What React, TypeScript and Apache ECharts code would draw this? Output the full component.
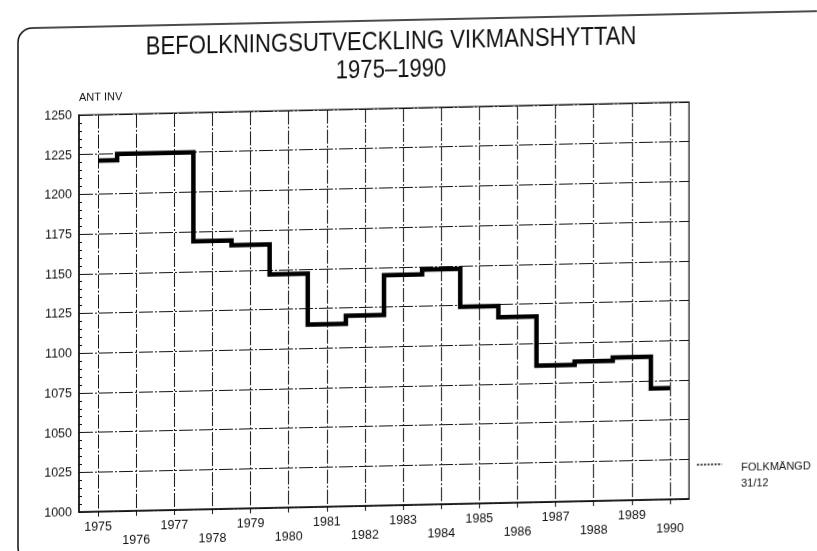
import React, { useEffect, useRef } from 'react';
import * as echarts from 'echarts';

// ---- data ----
const years = ['1975', '1976', '1977', '1978', '1979', '1980', '1981', '1982', '1983', '1984', '1985', '1986', '1987', '1988', '1989', '1990'];
const population = [1221, 1225, 1225, 1169, 1166, 1147, 1115, 1120, 1145, 1148, 1124, 1117, 1086, 1088, 1090, 1070];
const yMin = 1000;
const yMax = 1250;
const yStep = 25;

const titleText = 'BEFOLKNINGSUTVECKLING VIKMANSHYTTAN';
const subtitleText = '1975–1990';
const yAxisName = 'ANT INV';
const seriesName = 'FOLKMÄNGD 31/12';
const legendLines = ['FOLKMÄNGD', '31/12'];

const FONT = '"Liberation Sans", Arial, sans-serif';
const INK = '#111';

export default function App() {
  const ref = useRef<HTMLDivElement>(null);

  useEffect(() => {
    if (!ref.current) return;
    const chart = echarts.init(ref.current, null, { renderer: 'svg' });
    const gridDash = [14, 2, 2, 2];
    chart.setOption({
      animation: false,
      backgroundColor: '#fff',
      textStyle: { fontFamily: FONT, color: INK },
      grid: {
        left: 79,
        top: 115,
        width: 610,
        height: 397,
        show: true,
        borderColor: INK,
        borderWidth: 1.2,
        backgroundColor: 'transparent',
      },
      xAxis: {
        type: 'category',
        data: years,
        boundaryGap: true,
        axisLine: { show: true, lineStyle: { color: INK, width: 1.5 } },
        axisTick: { show: true, alignWithLabel: true, length: 5, lineStyle: { color: INK } },
        axisLabel: {
          interval: 0,
          margin: 8,
          fontFamily: FONT,
          fontSize: 12.5,
          lineHeight: 14,
          color: INK,
          formatter: (v: string, i: number) => (i % 2 === 0 ? v : '\n' + v),
        },
        splitLine: {
          show: true,
          alignWithLabel: true,
          lineStyle: { color: '#111', width: 1, type: gridDash },
        },
      },
      yAxis: {
        type: 'value',
        min: yMin,
        max: yMax,
        interval: yStep,
        name: yAxisName,
        nameLocation: 'end',
        nameGap: 13,
        nameTextStyle: { fontFamily: FONT, fontSize: 11, color: INK, align: 'left' },
        axisLine: { show: true, lineStyle: { color: INK, width: 1.5 } },
        axisTick: { show: true, inside: true, length: 5, lineStyle: { color: INK } },
        minorTick: { show: true, splitNumber: 5, length: 3, lineStyle: { color: INK } },
        axisLabel: {
          margin: 7,
          fontFamily: FONT,
          fontSize: 12.5,
          color: INK,
          formatter: (v: number) => String(v),
        },
        splitLine: { show: true, lineStyle: { color: '#111', width: 1, type: gridDash } },
      },
      series: [
        {
          name: seriesName,
          type: 'line',
          step: 'middle',
          data: population,
          symbol: 'none',
          lineStyle: { color: '#000', width: 4.5, join: 'miter' },
          z: 5,
        },
      ],
      graphic: [
        {
          type: 'rect',
          shape: { x: 18, y: 27, width: 900, height: 533, r: 14 },
          style: { fill: 'none', stroke: INK, lineWidth: 1.5 },
          silent: true,
        },
        {
          type: 'text',
          x: 391,
          y: 46.5,
          scaleX: 0.85,
          style: {
            text: titleText,
            font: `26px ${FONT}`,
            fill: INK,
            textAlign: 'center',
            textVerticalAlign: 'middle',
          },
          silent: true,
        },
        {
          type: 'text',
          x: 391,
          y: 75,
          scaleX: 0.85,
          style: {
            text: subtitleText,
            font: `26px ${FONT}`,
            fill: INK,
            textAlign: 'center',
            textVerticalAlign: 'middle',
          },
          silent: true,
        },
        {
          type: 'line',
          shape: { x1: 697, y1: 478, x2: 722, y2: 478 },
          style: { stroke: '#000', lineWidth: 1.5, lineDash: [2, 1.5] },
          silent: true,
        },
        {
          type: 'text',
          x: 741,
          y: 481,
          style: { text: legendLines[0], font: `11px ${FONT}`, fill: INK, textVerticalAlign: 'middle' },
          silent: true,
        },
        {
          type: 'text',
          x: 741,
          y: 497,
          style: { text: legendLines[1], font: `11px ${FONT}`, fill: INK, textVerticalAlign: 'middle' },
          silent: true,
        },
      ],
    });
    return () => chart.dispose();
  }, []);

  return (
    <div
      ref={ref}
      style={{
        position: 'fixed',
        left: 0,
        top: 0,
        width: 817,
        height: 551,
        transform: 'skewY(-1.23deg)',
        transformOrigin: '80px 0px',
      }}
    />
  );
}
